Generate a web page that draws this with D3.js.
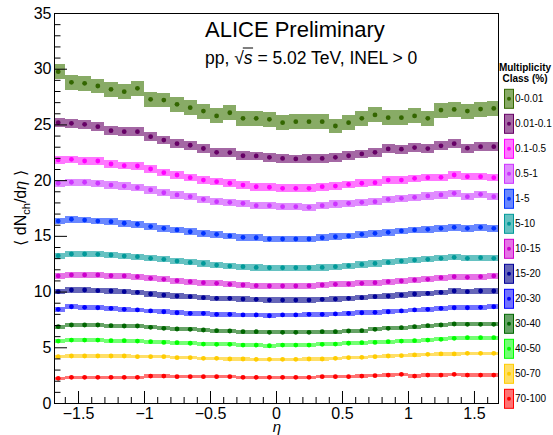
<!DOCTYPE html>
<html>
<head>
  <meta charset="utf-8">
  <title>dNch/deta vs eta</title>
  <style>
    body { margin: 0; background: #fff; }
    svg text { font-family: "Liberation Sans", Arial, Helvetica, sans-serif; }
    .axis path { display: none; }
    .axis line { stroke: #000; }
    .axis text { font-size: 16px; fill: #000; }
  </style>
</head>
<body>
  <script src="https://cdn.jsdelivr.net/npm/d3@7"></script>
  <script>
    // eta bin centres
    var eta = [-1.65, -1.55, -1.45, -1.35, -1.25, -1.15, -1.05, -0.95, -0.85, -0.75, -0.65, -0.55, -0.45, -0.35, -0.25, -0.15, -0.05,
      0.05, 0.15, 0.25, 0.35, 0.45, 0.55, 0.65, 0.75, 0.85, 0.95, 1.05, 1.15, 1.25, 1.35, 1.45, 1.55, 1.65];

    var classes = ["0-0.01", "0.01-0.1", "0.1-0.5", "0.5-1", "1-5", "5-10", "10-15", "15-20", "20-30", "30-40", "40-50", "50-70", "70-100"];
    var markerColors = ["#336600", "#660066", "#ff00ff", "#cc33ff", "#0033ff", "#009999", "#cc00cc", "#000099", "#0000ff", "#006600", "#00ff00", "#ffcc00", "#ff0000"];
    var boxColors = ["#88ab66", "#a468a4", "#ff77ff", "#e08cff", "#6a88ff", "#66c2c2", "#e673e6", "#6666b8", "#7373ff", "#66a366", "#73ff73", "#ffdf66", "#ff7373"];
    // systematic half-height of boxes
    var syst = [0.67, 0.40, 0.34, 0.32, 0.30, 0.28, 0.26, 0.23, 0.21, 0.19, 0.17, 0.15, 0.14];

    var c0 = [29.73, 28.78, 28.69, 28.45, 28.15, 27.94, 28.24, 27.25, 27.19, 26.80, 26.50, 26.20, 25.76, 26.05, 25.55, 25.55, 25.46,
      25.16, 25.25, 25.25, 25.25, 24.86, 25.16, 25.55, 25.85, 25.61, 25.61, 25.76, 25.55, 26.29, 26.35, 26.20, 26.38, 26.44];
    var c1 = [25.16, 25.10, 25.01, 24.80, 24.44, 24.35, 24.35, 23.90, 23.60, 23.27, 23.13, 22.84, 22.50, 22.47, 22.19, 22.17, 22.05,
      21.95, 21.90, 21.95, 21.95, 22.05, 22.19, 22.35, 22.50, 22.80, 22.78, 22.92, 22.83, 23.08, 23.27, 22.87, 23.00, 23.00];
    var c2 = [21.81, 21.87, 21.72, 21.72, 21.45, 21.30, 21.27, 21.00, 20.67, 20.46, 20.22, 20.01, 19.86, 19.72, 19.56, 19.41, 19.36,
      19.27, 19.27, 19.27, 19.41, 19.47, 19.62, 19.72, 19.77, 20.01, 20.01, 20.16, 20.22, 20.25, 20.46, 20.31, 20.31, 20.22];
    var c3 = [19.72, 19.81, 19.81, 19.72, 19.56, 19.47, 19.32, 19.12, 18.87, 18.67, 18.52, 18.28, 18.07, 18.01, 17.92, 17.71, 17.71,
      17.62, 17.62, 17.56, 17.71, 17.86, 17.92, 18.01, 18.07, 18.28, 18.37, 18.46, 18.58, 18.67, 18.82, 18.52, 18.73, 18.52];
    var c4 = [16.33, 16.49, 16.42, 16.33, 16.27, 16.13, 16.04, 15.83, 15.68, 15.53, 15.37, 15.23, 15.14, 14.99, 14.87, 14.83, 14.72,
      14.72, 14.72, 14.72, 14.83, 14.92, 14.99, 15.14, 15.23, 15.32, 15.44, 15.53, 15.59, 15.68, 15.77, 15.68, 15.77, 15.68];
    var c5 = [13.22, 13.37, 13.37, 13.34, 13.28, 13.19, 13.13, 12.98, 12.89, 12.74, 12.62, 12.53, 12.38, 12.29, 12.23, 12.17, 12.14,
      12.14, 12.14, 12.14, 12.17, 12.23, 12.32, 12.44, 12.53, 12.62, 12.74, 12.83, 12.89, 12.98, 13.07, 12.98, 13.04, 12.98];
    var c6 = [11.40, 11.49, 11.49, 11.49, 11.42, 11.40, 11.34, 11.19, 11.10, 10.98, 10.89, 10.80, 10.74, 10.65, 10.59, 10.53, 10.50,
      10.50, 10.50, 10.53, 10.59, 10.65, 10.68, 10.74, 10.80, 10.89, 10.95, 11.04, 11.10, 11.25, 11.34, 11.28, 11.34, 11.40];
    var c7 = [9.99, 10.14, 10.14, 10.08, 10.05, 9.99, 9.93, 9.78, 9.69, 9.60, 9.54, 9.45, 9.39, 9.39, 9.33, 9.30, 9.24,
      9.24, 9.24, 9.24, 9.30, 9.33, 9.39, 9.45, 9.54, 9.60, 9.69, 9.78, 9.84, 9.93, 10.05, 9.99, 10.05, 10.05];
    var c8 = [8.41, 8.64, 8.59, 8.55, 8.50, 8.41, 8.35, 8.26, 8.19, 8.10, 8.05, 8.05, 7.96, 7.96, 7.90, 7.90, 7.83,
      7.90, 7.90, 7.96, 7.96, 7.99, 8.05, 8.10, 8.14, 8.19, 8.26, 8.35, 8.41, 8.50, 8.55, 8.55, 8.59, 8.64];
    var c9 = [6.85, 7.00, 7.00, 7.00, 6.94, 6.91, 6.91, 6.79, 6.70, 6.64, 6.61, 6.55, 6.49, 6.46, 6.40, 6.40, 6.34,
      6.34, 6.34, 6.34, 6.40, 6.40, 6.46, 6.49, 6.61, 6.70, 6.76, 6.85, 6.94, 7.00, 7.09, 7.06, 7.06, 7.06];
    var c10 = [5.56, 5.65, 5.65, 5.65, 5.59, 5.59, 5.56, 5.50, 5.44, 5.41, 5.36, 5.29, 5.27, 5.27, 5.20, 5.20, 5.14,
      5.20, 5.20, 5.20, 5.27, 5.29, 5.36, 5.41, 5.44, 5.50, 5.56, 5.59, 5.65, 5.71, 5.80, 5.86, 5.86, 5.86];
    var c11 = [4.16, 4.22, 4.22, 4.22, 4.22, 4.22, 4.16, 4.16, 4.16, 4.07, 4.07, 4.01, 4.01, 3.95, 3.95, 3.92, 3.92,
      3.92, 3.92, 3.95, 3.95, 4.01, 4.07, 4.10, 4.16, 4.22, 4.25, 4.31, 4.37, 4.40, 4.40, 4.46, 4.46, 4.46];
    var c12 = [2.21, 2.30, 2.30, 2.30, 2.30, 2.30, 2.30, 2.42, 2.42, 2.36, 2.36, 2.36, 2.36, 2.36, 2.30, 2.30, 2.30,
      2.30, 2.30, 2.30, 2.36, 2.36, 2.36, 2.42, 2.45, 2.51, 2.57, 2.42, 2.51, 2.51, 2.57, 2.51, 2.51, 2.51];

    var series = [c0, c1, c2, c3, c4, c5, c6, c7, c8, c9, c10, c11, c12];
    var binWidth = 0.1;

    var W = 553, H = 435;
    var frame = { left: 54, right: 498, top: 13, bottom: 403 };

    var x = d3.scaleLinear().domain([-1.682, 1.682]).range([frame.left, frame.right]);
    var y = d3.scaleLinear().domain([0, 35]).range([frame.bottom, frame.top]);

    var svg = d3.select("body").append("svg")
      .attr("width", W)
      .attr("height", H);

    svg.append("defs").append("clipPath")
      .attr("id", "plotclip")
      .append("rect")
      .attr("x", frame.left)
      .attr("y", frame.top)
      .attr("width", frame.right - frame.left)
      .attr("height", frame.bottom - frame.top);

    var plot = svg.append("g").attr("clip-path", "url(#plotclip)");

    // systematic boxes
    series.forEach(function (vals, i) {
      var pts = vals.map(function (v, j) { return { eta: eta[j], v: v }; });
      plot.append("g")
        .selectAll("rect")
        .data(pts)
        .join("rect")
        .attr("x", d => x(d.eta - binWidth / 2))
        .attr("width", d => x(d.eta + binWidth / 2) - x(d.eta - binWidth / 2))
        .attr("y", d => y(d.v + syst[i]))
        .attr("height", d => y(d.v - syst[i]) - y(d.v + syst[i]))
        .attr("fill", boxColors[i])
        .attr("shape-rendering", "crispEdges");
    });

    // markers
    series.forEach(function (vals, i) {
      var pts = vals.map(function (v, j) { return { eta: eta[j], v: v }; });
      plot.append("g")
        .selectAll("circle")
        .data(pts)
        .join("circle")
        .attr("cx", d => x(d.eta))
        .attr("cy", d => y(d.v))
        .attr("r", 2.4)
        .attr("fill", markerColors[i]);
    });

    // axes
    var xMajor = [-1.5, -1, -0.5, 0, 0.5, 1, 1.5];
    var xMinor = d3.range(-16, 17).map(d => d / 10).filter(d => xMajor.indexOf(d) < 0);

    svg.append("g")
      .attr("class", "axis")
      .attr("transform", "translate(0," + frame.bottom + ")")
      .call(d3.axisBottom(x).tickValues(xMinor).tickSize(-6).tickFormat(""));
    svg.append("g")
      .attr("class", "axis")
      .attr("transform", "translate(0," + frame.bottom + ")")
      .call(d3.axisBottom(x).tickValues(xMajor).tickSize(-12).tickPadding(5).tickFormat(d3.format("")));

    var yMajor = d3.range(0, 36, 5);
    var yMinor = d3.range(0, 36).filter(d => d % 5 != 0);

    svg.append("g")
      .attr("class", "axis")
      .attr("transform", "translate(" + frame.left + ",0)")
      .call(d3.axisLeft(y).tickValues(yMinor).tickSize(-6.5).tickFormat(""));
    svg.append("g")
      .attr("class", "axis")
      .attr("transform", "translate(" + frame.left + ",0)")
      .call(d3.axisLeft(y).tickValues(yMajor).tickSize(-13).tickPadding(2.5).tickFormat(d3.format("d")));

    // frame
    svg.append("rect")
      .attr("x", frame.left)
      .attr("y", frame.top)
      .attr("width", frame.right - frame.left)
      .attr("height", frame.bottom - frame.top)
      .attr("fill", "none")
      .attr("stroke", "#000")
      .attr("stroke-width", 1)
      .attr("shape-rendering", "crispEdges");

    // axis titles
    svg.append("text")
      .attr("x", 277)
      .attr("y", 431.5)
      .attr("text-anchor", "middle")
      .attr("font-size", 15)
      .attr("font-style", "italic")
      .text("η");

    var ytitle = svg.append("text")
      .attr("transform", "translate(26,208) rotate(-90)")
      .attr("text-anchor", "middle")
      .attr("font-size", 16);
    ytitle.append("tspan").text("⟨ dN");
    ytitle.append("tspan").attr("font-size", 11).attr("dy", 4).text("ch");
    ytitle.append("tspan").attr("dy", -4).text("/d");
    ytitle.append("tspan").attr("font-style", "italic").text("η");
    ytitle.append("tspan").text(" ⟩");

    // header text
    svg.append("text")
      .attr("x", 205)
      .attr("y", 37)
      .attr("font-size", 22)
      .text("ALICE Preliminary");

    var sub = svg.append("text")
      .attr("x", 205)
      .attr("y", 63.5)
      .attr("font-size", 17.5);
    sub.append("tspan").text("pp, ");
    sub.append("tspan").text("√");
    sub.append("tspan").attr("font-style", "italic").text("s");
    sub.append("tspan").text(" = 5.02 TeV, INEL > 0");
    var subNode = sub.node();
    var x0 = subNode.getEndPositionOfChar(4).x - 1;
    var x1 = subNode.getEndPositionOfChar(5).x + 0.5;
    svg.append("line")
      .attr("x1", x0).attr("x2", x1)
      .attr("y1", 48).attr("y2", 48)
      .attr("stroke", "#000")
      .attr("stroke-width", 1);

    // legend
    var legend = svg.append("g");
    legend.append("text")
      .attr("x", 525).attr("y", 70.5)
      .attr("text-anchor", "middle")
      .attr("font-size", 10).attr("font-weight", "bold")
      .text("Multiplicity");
    legend.append("text")
      .attr("x", 525).attr("y", 81.5)
      .attr("text-anchor", "middle")
      .attr("font-size", 10).attr("font-weight", "bold")
      .text("Class (%)");

    var entries = legend.selectAll("g.entry")
      .data(classes)
      .join("g")
      .attr("class", "entry")
      .attr("transform", (d, i) => "translate(0," + (98.8 + i * 25) + ")");

    entries.append("rect")
      .attr("x", 504.5).attr("y", -9.5)
      .attr("width", 9).attr("height", 19)
      .attr("fill", (d, i) => boxColors[i])
      .attr("stroke", (d, i) => markerColors[i])
      .attr("stroke-width", 1);
    entries.append("circle")
      .attr("cx", 509).attr("cy", 0)
      .attr("r", 2)
      .attr("fill", (d, i) => markerColors[i]);
    entries.append("text")
      .attr("x", 515).attr("y", 3.6)
      .attr("font-size", 10)
      .text(d => d);
  </script>
</body>
</html>
